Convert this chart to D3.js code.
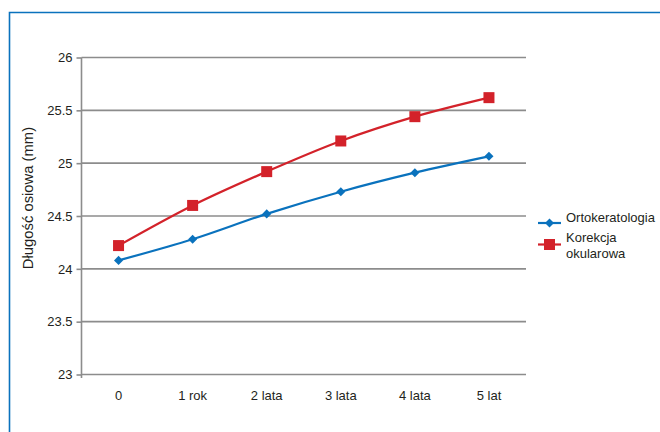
<!DOCTYPE html>
<html><head><meta charset="utf-8">
<script src="https://cdn.jsdelivr.net/npm/d3@7"></script>
<style>body{margin:0;background:#fff;} text{font-family:"Liberation Sans",Arial,sans-serif;fill:#231f20;}</style>
</head><body>
<svg id="c" width="660" height="432"></svg>
<script>
const categories = ["0","1 rok","2 lata","3 lata","4 lata","5 lat"];
const ortho = [24.08,24.28,24.52,24.73,24.91,25.065];
const glasses = [24.22,24.60,24.92,25.21,25.44,25.62];
const yTicks = [23,23.5,24,24.5,25,25.5,26];
const yTickLabels = ["23","23.5","24","24.5","25","25.5","26"];
const seriesNames = ["Ortokeratologia",["Korekcja","okularowa"]];
const yLabel = "Długość osiowa (mm)";

const svg = d3.select("#c");
const blue = "#0a72bd", red = "#d3222a", grid = "#8c8c8c";

// frame
svg.append("path").attr("d","M9.5,432 V12.5 H660").attr("fill","none").attr("stroke",blue).attr("stroke-width",1.6);

const L=81.5, R=526, T=57.5, B=374.5;
const x = d3.scaleBand().domain(categories).range([L,R]);
const y = d3.scaleLinear().domain([23,26]).range([B,T]);
const cx = d => x(d)+x.bandwidth()/2;

// grid
svg.append("g").selectAll("line").data(yTicks).join("line")
  .attr("x1",L).attr("x2",R).attr("y1",d=>y(d)).attr("y2",d=>y(d))
  .attr("stroke",grid).attr("stroke-width",1.6);

// y axis
const ya = svg.append("g").attr("transform",`translate(${L},0)`)
  .call(d3.axisLeft(y).tickValues(yTicks).tickFormat((d,i)=>yTickLabels[i]).tickSize(5).tickPadding(4));
ya.select(".domain").remove();
ya.selectAll(".tick line").attr("stroke",grid).attr("stroke-width",1.6);
ya.selectAll(".tick text").attr("font-size",13).attr("font-family","Liberation Sans, Arial, sans-serif").attr("fill","#231f20");
svg.append("line").attr("x1",L).attr("x2",L).attr("y1",T).attr("y2",B+3.5).attr("stroke",grid).attr("stroke-width",1.6);

// x axis labels
const xa = svg.append("g").attr("transform",`translate(0,${B})`)
  .call(d3.axisBottom(x).tickSize(0).tickPadding(16));
xa.select(".domain").remove();
xa.selectAll(".tick text").attr("font-size",13).attr("font-family","Liberation Sans, Arial, sans-serif").attr("fill","#231f20");

// y label
svg.append("text").attr("transform","translate(33,198) rotate(-90)").attr("text-anchor","middle")
  .attr("font-size",14.8).text(yLabel);

const line = d3.line().x((d,i)=>cx(categories[i])).y(d=>y(d)).curve(d3.curveMonotoneX);
svg.append("path").datum(ortho).attr("d",line).attr("fill","none").attr("stroke",blue).attr("stroke-width",2.2);
svg.append("path").datum(glasses).attr("d",line).attr("fill","none").attr("stroke",red).attr("stroke-width",2.2);

const diamond = d3.symbol().type(d3.symbolDiamond2).size(52);
svg.append("g").selectAll("path").data(ortho).join("path")
  .attr("transform",(d,i)=>`translate(${cx(categories[i])},${y(d)})`).attr("d",diamond).attr("fill",blue);
svg.append("g").selectAll("rect").data(glasses).join("rect")
  .attr("x",(d,i)=>cx(categories[i])-5.5).attr("y",d=>y(d)-5.5).attr("width",11).attr("height",11).attr("fill",red);

// legend
const lg = svg.append("g");
lg.append("line").attr("x1",538).attr("x2",561).attr("y1",223).attr("y2",223).attr("stroke",blue).attr("stroke-width",2.2);
lg.append("path").attr("transform","translate(549.5,223)").attr("d",diamond).attr("fill",blue);
lg.append("text").attr("x",566).attr("y",221.5).attr("font-size",13).text(seriesNames[0]);
lg.append("line").attr("x1",538).attr("x2",561).attr("y1",244.5).attr("y2",244.5).attr("stroke",red).attr("stroke-width",2.2);
lg.append("rect").attr("x",544).attr("y",239).attr("width",11).attr("height",11).attr("fill",red);
lg.append("text").attr("x",566).attr("y",241.5).attr("font-size",13).text(seriesNames[1][0]);
lg.append("text").attr("x",566).attr("y",257.5).attr("font-size",13).text(seriesNames[1][1]);
</script>
</body></html>
